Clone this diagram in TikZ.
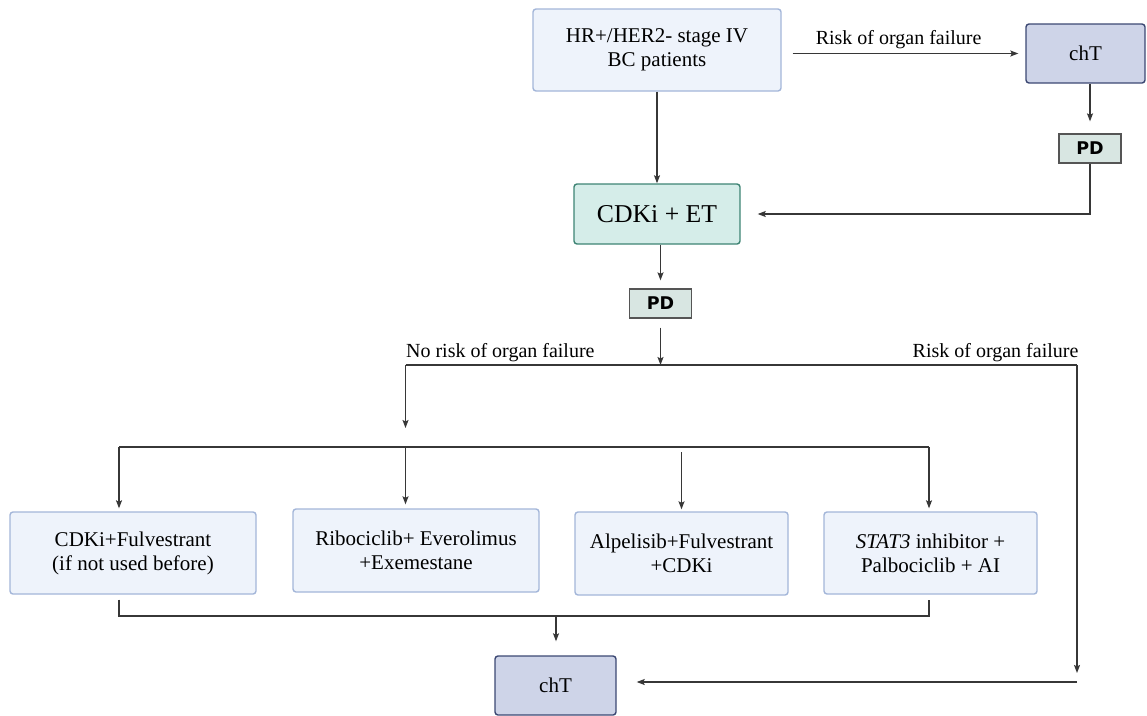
\documentclass[tikz,border=0pt]{standalone}
\usepackage{fontspec}
\setmainfont{Liberation Serif}
\newfontfamily\pdfont{DejaVu Sans}
\usetikzlibrary{positioning,arrows.meta}
\definecolor{boxfill}{RGB}{238,243,251}
\definecolor{boxline}{RGB}{163,182,217}
\definecolor{chtfill}{RGB}{206,212,232}
\definecolor{chtline}{RGB}{60,72,115}
\definecolor{cdkfill}{RGB}{213,237,233}
\definecolor{cdkline}{RGB}{62,132,116}
\definecolor{pdfill}{RGB}{216,230,226}
\definecolor{pdline}{RGB}{85,85,85}
\definecolor{wirecol}{RGB}{55,55,55}

\begin{document}
\begin{tikzpicture}[x=1pt,y=-1pt,
        box/.style={draw=boxline, fill=boxfill, line width=1.4pt, rounded corners=3pt,
            align=center, inner sep=0pt, font=\fontsize{21}{24}\selectfont},
        chtbox/.style={box, draw=chtline, fill=chtfill},
        pdbox/.style={draw=pdline, fill=pdfill, line width=1.3pt, inner sep=0pt,
            minimum width=62pt, minimum height=29pt, font=\pdfont\bfseries\fontsize{17.5}{18}\selectfont},
        wire/.style={draw=wirecol, line width=1.2pt},
        arr/.style={wire, -{Stealth[length=8pt,width=6pt,inset=1.5pt]}},
        lbl/.style={inner sep=0pt, font=\fontsize{20}{24}\selectfont}]

                \useasboundingbox (0,0) rectangle (1147,715);

                \node[box, minimum width=248pt, minimum height=82pt] (pat) at (657,50) {HR+/HER2- stage IV\\BC patients};
                \node[chtbox, minimum width=119pt, minimum height=59pt] (chT1) at (1085.5,53.5) {chT};
                \node[pdbox] (PD1) at (1090,148.5) {PD};

                \node[box, draw=cdkline, fill=cdkfill, minimum width=166pt, minimum height=60pt,
                    font=\fontsize{25.7}{30}\selectfont] (cdk) at (657,214) {CDKi + ET};
                \node[pdbox] (PD2) at (660.5,303.5) {PD};

                \node[box, minimum width=246pt, minimum height=82pt] (opt1) at (133,553)   {CDKi+Fulvestrant\\(if not used before)};
                \node[box, minimum width=246pt, minimum height=83pt] (opt2) at (416,550.5) {Ribociclib+ Everolimus\\+Exemestane};
                \node[box, minimum width=213pt, minimum height=83pt] (opt3) at (681.5,553.5) {Alpelisib+Fulvestrant\\+CDKi};
                \node[box, minimum width=213pt, minimum height=82pt] (opt4) at (930.5,553) {\textit{STAT3} inhibitor +\\Palbociclib + AI};

                \node[chtbox, minimum width=121pt, minimum height=59pt] (chT2) at (555.5,685.5) {chT};

                \coordinate (split) at (660.5,365);
                \coordinate (noL)   at (405.5,365);
                \coordinate (riskR) at (1077,365);
                \coordinate (riskB) at (1077,682);
                \coordinate (barL)  at (119,447);
                \coordinate (barM)  at (405.5,447);
                \coordinate (barR)  at (929,447);
                \coordinate (joinL) at (119,616);
                \coordinate (joinM) at (556,616);
                \coordinate (joinR) at (929,616);

                \draw[arr] (pat) -- (cdk);
                \draw[arr, shorten <=11pt, shorten >=7pt] (pat.east |- chT1.west) -- (chT1.west)
                    node[lbl, pos=0.48, anchor=base, yshift=9.5pt] {Risk of organ failure};
                \draw[arr, shorten >=12pt] (PD1.north |- chT1.south) -- (PD1.north);
                \draw[arr, shorten >=17pt] (PD1.south) |- (cdk.east);

                \draw[arr, shorten >=8pt] (PD2.north |- cdk.south) -- (PD2.north);
                \draw[arr, shorten <=9pt] (PD2.south) -- (split);
                \draw[wire] (noL) -- (riskR)
                    node[lbl, pos=0, anchor=base west, yshift=8pt] {No risk of organ failure}
                    node[lbl, pos=1, anchor=base east, yshift=8pt, xshift=2pt] {Risk of organ failure};
                \draw[arr, shorten >=19pt] (noL) -- (barM);

                \draw[wire] (barL) -- (barR);
                \draw[arr, shorten >=3pt] (barL) -- (barL |- opt1.north);
                \draw[arr, shorten >=4pt] (barM) -- (barM |- opt2.north);
                \draw[arr, shorten <=5pt, shorten >=2pt] (opt3.north |- barL) -- (opt3.north);
                \draw[arr, shorten >=3pt] (barR) -- (barR |- opt4.north);

                \draw[wire, shorten <=5pt, shorten >=5pt] (barL |- opt1.south) -- (joinL) -- (joinR) -- (barR |- opt4.south);
                \draw[arr, shorten >=14pt] (joinM) -- (joinM |- chT2.north);

                \draw[arr, shorten >=9pt] (riskR) -- (riskB);
                \draw[arr, shorten >=20pt] (riskB) -- (riskB -| chT2.east);
            \end{tikzpicture}
\end{document}
